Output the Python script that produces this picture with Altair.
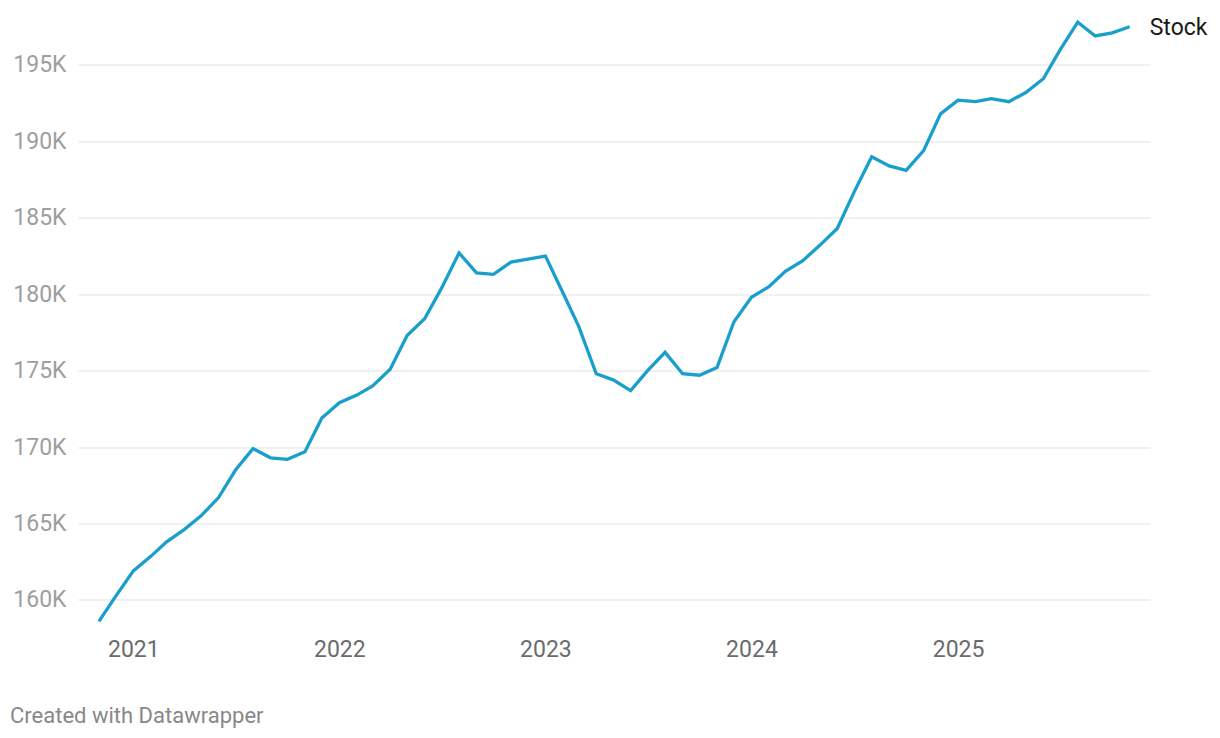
import altair as alt
import pandas as pd

# Monthly values (thousands), Nov 2020 – Nov 2025
start_month = "2020-11-01"
stock_k = [
    158.6, 160.25,
    161.9, 162.85, 163.8, 164.6, 165.5, 166.7, 168.5, 169.9, 169.3, 169.2, 169.7, 171.9,
    172.9, 173.4, 174.0, 175.1, 177.3, 178.4, 180.4, 182.7, 181.4, 181.3, 182.1, 182.3,
    182.5, 180.1, 177.9, 174.8, 174.4, 173.7, 175.0, 176.2, 174.8, 174.7, 175.2, 178.2,
    179.8, 180.5, 181.5, 182.2, 183.2, 184.3, 186.7, 189.0, 188.4, 188.1, 189.4, 191.8,
    192.7, 192.6, 192.8, 192.6, 193.2, 194.1, 196.0, 197.8, 196.9, 197.1, 197.5,
]
series_name = "Stock"
y_ticks = [160000, 165000, 170000, 175000, 180000, 185000, 190000, 195000]
x_tick_years = [2021, 2022, 2023, 2024, 2025]
footer_text = "Created with Datawrapper"

dates = pd.date_range(start_month, periods=len(stock_k), freq="MS").strftime("%Y-%m-%d")
df = pd.DataFrame({"date": dates, "value": [v * 1000 for v in stock_k]})
last = df.tail(1).assign(label=series_name)
footer_df = pd.DataFrame({"t": [footer_text]})

FONT = "Roboto"
LINE = "#1a9fcc"

x_scale = alt.Scale(
    type="utc",
    domain=[
        alt.DateTime(year=2020, month=9, date=25, utc=True),
        alt.DateTime(year=2025, month=12, date=7, utc=True),
    ],
)
y_scale = alt.Scale(domain=[158000, 198500], nice=False, zero=False)

x_axis = alt.Axis(
    values=[alt.DateTime(year=y, month=1, date=1, utc=True) for y in x_tick_years],
    format="%Y",
    formatType="utc",
    title=None,
    grid=False,
    ticks=False,
    domain=False,
    labelFont=FONT,
    labelFontSize=23,
    labelColor="#6b6b6b",
    labelPadding=8,
)
y_axis = alt.Axis(
    values=y_ticks,
    labelExpr="datum.value / 1000 + 'K'",
    title=None,
    grid=True,
    gridColor="#e1e1e1",
    gridWidth=1,
    ticks=False,
    domain=False,
    labelFont=FONT,
    labelFontSize=23,
    labelColor="#9e9e9e",
    labelPadding=12,
    labelBaseline="middle",
)

line = alt.Chart(df).mark_line(color=LINE, strokeWidth=3.3, strokeJoin="miter").encode(
    x=alt.X("date:T", scale=x_scale, axis=x_axis),
    y=alt.Y("value:Q", scale=y_scale, axis=y_axis),
)

label = alt.Chart(last).mark_text(
    align="left", baseline="middle", dx=20, dy=1.5, font=FONT, fontSize=23, color="#1a1a1a"
).encode(
    x=alt.X("date:T", scale=x_scale),
    y=alt.Y("value:Q", scale=y_scale),
    text="label:N",
)

footer = alt.Chart(footer_df).mark_text(
    align="left", baseline="alphabetic", font=FONT, fontSize=22, color="#888888"
).encode(
    x=alt.value(-68),
    y=alt.value(711.5),
    text="t:N",
)

chart = (
    alt.layer(line, label, footer)
    .properties(
        width=1072,
        height=619,
        autosize=alt.AutoSizeParams(type="none"),
        padding={"left": 70, "top": 3.5, "right": 62, "bottom": 99.5},
        background="white",
    )
    .configure_view(strokeWidth=0)
)

chart.save("out.html", embed_options={"renderer": "svg", "actions": False})
